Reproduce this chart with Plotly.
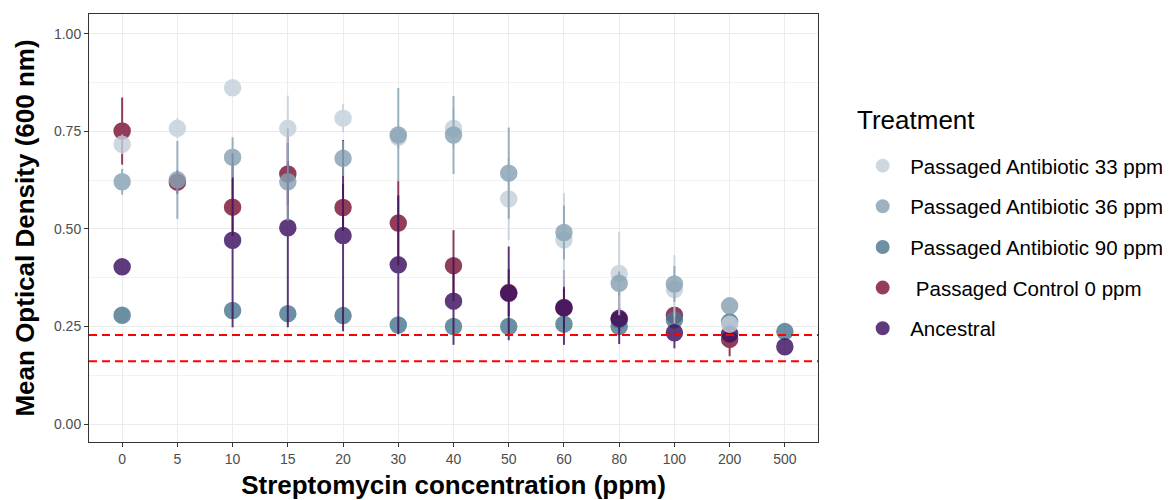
import plotly.graph_objects as go

categories = ["0", "5", "10", "15", "20", "30", "40", "50", "60", "80", "100", "200", "500"]

ab33_mean = [0.717, 0.758, 0.862, 0.758, 0.784, 0.735, 0.758, 0.577, 0.472, 0.386, 0.345, 0.256, None]
ab33_err = [0.025, 0.026, 0.01, 0.084, 0.036, 0.03, 0.05, 0.105, 0.12, 0.107, 0.088, 0.02, None]

ab36_mean = [0.621, 0.626, 0.684, 0.621, 0.681, 0.741, 0.741, 0.643, 0.491, 0.361, 0.359, 0.303, None]
ab36_err = [0.033, 0.1, 0.051, 0.1, 0.045, 0.12, 0.1, 0.117, 0.069, 0.03, 0.046, 0.01, None]

ab90_mean = [0.279, None, 0.291, 0.283, 0.278, 0.254, 0.25, 0.25, 0.256, 0.25, 0.267, 0.262, 0.237]
ab90_err = [0.008, None, 0.008, 0.008, 0.008, 0.008, 0.008, 0.008, 0.008, 0.008, 0.008, 0.008, 0.008]

control_mean = [0.751, 0.62, 0.556, 0.641, 0.555, 0.515, 0.406, 0.337, 0.297, 0.268, 0.279, 0.217, None]
control_err = [0.086, 0.03, 0.074, 0.08, 0.06, 0.108, 0.091, 0.06, 0.05, 0.03, 0.02, 0.043, None]

ancestral_mean = [0.403, None, 0.471, 0.503, 0.483, 0.408, 0.315, 0.335, 0.299, 0.271, 0.234, 0.231, 0.198]
ancestral_err = [0.005, None, 0.223, 0.255, 0.245, 0.178, 0.112, 0.12, 0.096, 0.066, 0.04, 0.02, 0.01]

threshold_lines = [0.228, 0.161]

series = [
    # (name, means, errs, color, legend rank) in drawing order
    (" Passaged Control 0 ppm", control_mean, control_err, "#7b1437", 4),
    ("Passaged Antibiotic 90 ppm", ab90_mean, ab90_err, "#4d7890", 3),
    ("Ancestral", ancestral_mean, ancestral_err, "#3d1060", 5),
    ("Passaged Antibiotic 33 ppm", ab33_mean, ab33_err, "#c4d0da", 1),
    ("Passaged Antibiotic 36 ppm", ab36_mean, ab36_err, "#87a2b3", 2),
]

fig = go.Figure()
for name, means, errs, color, rank in series:
    fig.add_trace(go.Scatter(
        x=categories, y=means, mode="markers", name=name,
        legendrank=rank, legendgroup=name,
        opacity=0.82,
        marker=dict(size=16, color=color, line=dict(width=1.5, color=color)),
        error_y=dict(type="data", array=errs, visible=True, width=0,
                     thickness=2, color=color),
    ))

for yv in threshold_lines:
    fig.add_shape(type="line", xref="paper", x0=0, x1=1, yref="y", y0=yv, y1=yv,
                  line=dict(color="#ff0000", width=2, dash="8px,5px"), layer="above")

font_family = "Liberation Sans, Arial, sans-serif"
fig.add_annotation(text="Treatment", xref="paper", yref="paper",
                   x=1.0508, y=0.752, xanchor="left", yanchor="middle",
                   showarrow=False, font=dict(size=26, color="#000000"))

fig.update_layout(
    width=1170, height=500,
    margin=dict(l=81, r=360, t=6, b=66),
    paper_bgcolor="white", plot_bgcolor="white",
    font=dict(family=font_family, color="#4d4d4d"),
    legend=dict(
        font=dict(size=20.5, color="#000000"),
        x=1.051, xanchor="left", y=0.692, yanchor="top",
        tracegroupgap=11, itemsizing="constant", itemwidth=45,
        bgcolor="rgba(0,0,0,0)",
    ),
    showlegend=True,
)
fig.update_xaxes(
    type="category", categoryorder="array", categoryarray=categories,
    range=[-0.6, 12.6], automargin=False,
    showgrid=True, gridcolor="#ebebeb", gridwidth=1.2,
    showline=True, mirror=True, linecolor="#333333", linewidth=1,
    ticks="outside", ticklen=4, tickcolor="#333333",
    tickfont=dict(size=14, color="#4d4d4d"),
    title=dict(text="<b>Streptomycin concentration (ppm)</b>",
               font=dict(size=26, color="#000000"), standoff=10),
    zeroline=False,
)
fig.update_yaxes(
    range=[-0.046, 1.051], automargin=False,
    tickvals=[0, 0.25, 0.5, 0.75, 1.0], tickformat=".2f",
    showgrid=True, gridcolor="#ebebeb", gridwidth=1.2,
    minor=dict(tickvals=[0.125, 0.375, 0.625, 0.875], showgrid=True,
               gridcolor="#f2f2f2", gridwidth=1),
    showline=True, mirror=True, linecolor="#333333", linewidth=1,
    ticks="outside", ticklen=4, tickcolor="#333333",
    tickfont=dict(size=14, color="#4d4d4d"),
    title=dict(text="<b>Mean Optical Density (600 nm)</b>",
               font=dict(size=26, color="#000000"), standoff=11),
    zeroline=False,
)

fig.write_html("out.html")
